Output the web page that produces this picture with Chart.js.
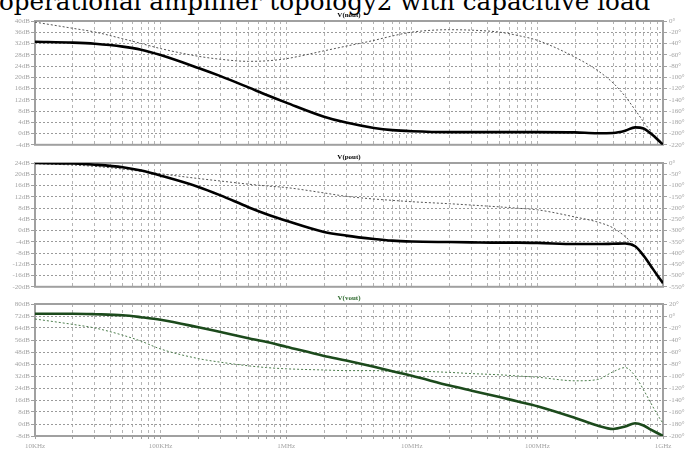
<!DOCTYPE html>
<html>
<head>
<meta charset="utf-8">
<script src="https://cdn.jsdelivr.net/npm/chart.js@4.4.0/dist/chart.umd.min.js"></script>
<style>
  body { margin:0; width:693px; height:450px; overflow:hidden; background:#fff; position:relative; }
  #titre { position:absolute; left:-1px; top:-10px; font-family:'DejaVu Serif'; font-size:24.6px; line-height:24.6px; white-space:nowrap; color:#000; }
  canvas { position:absolute; left:0; }
</style>
</head>
<body>
<div id="titre">operational amplifier topology2 with capacitive load</div>
<canvas id="nout" width="693" height="151" style="top:0px"></canvas>
<canvas id="pout" width="693" height="143" style="top:150px"></canvas>
<canvas id="vout" width="693" height="160" style="top:290px"></canvas>
<script>
//-----------------------------------------------------------------
//------------------------ DONNEES --------------------------------
//-----------------------------------------------------------------

const freqs = [1e4, 2e4, 3e4, 5e4, 7e4, 1e5, 2e5, 3e5, 5e5, 7e5,
               1e6, 2e6, 3e6, 5e6, 7e6, 1e7, 2e7, 3e7, 5e7, 7e7,
               1e8, 2e8, 3e8, 4e8, 5e8, 6e8, 7e8, 8e8, 9e8, 1e9];
const freqDecades = [1e4, 1e5, 1e6, 1e7, 1e8, 1e9];
const freqLabels = ['10KHz', '100KHz', '1MHz', '10MHz', '100MHz', '1GHz'];

// V(nout) : gain (dB) et phase (deg)
const noutMag = [32.6, 32.3, 31.9, 30.9, 29.8, 27.9, 23.3, 20.4, 16.4, 13.7,
                 11.0, 6.0, 3.9, 2.0, 1.2, 0.8, 0.5, 0.5, 0.5, 0.5,
                 0.5, 0.4, 0.1, 0.2, 1.0, 2.2, 1.8, 0, -2, -4];
const noutPhase = [-2, -13, -19.6, -31.6, -40, -49, -62.7, -68, -71.7, -70.8,
                   -67, -53, -44.7, -34.4, -26.6, -19.8, -15.5, -16.3, -19.8, -25.8,
                   -34.4, -64.5, -87.7, -110, -134, -158, -179, -196, -208, -218];

// V(pout)
const poutMag = [24, 23.8, 23.4, 22.5, 21.3, 19.5, 15.5, 12.5, 8.3, 5.8,
                 3.5, -0.5, -1.8, -3.0, -3.6, -3.9, -4.1, -4.2, -4.3, -4.3,
                 -4.4, -4.8, -4.8, -4.7, -4.6, -5.6, -8.9, -12.6, -15.9, -18.7];
const poutPhase = [-3, -9, -15, -27, -37, -48, -69, -80, -94, -102,
                   -109, -133, -148, -160, -166, -172, -181, -187, -195, -201,
                   -208, -240, -262, -288, -327, -370, -417, -460, -498, -532];

// V(vout)
const voutMag = [73.5, 73.5, 73.2, 72.5, 71.2, 69.5, 64.5, 61.3, 57.2, 54.6,
                 51.5, 45.4, 42.3, 38.1, 35.2, 32.2, 25.6, 22.2, 18, 15,
                 11.8, 4, -1, -3.3, -1.7, 0.5, -1, -3.7, -6, -8];
const voutPhase = [-5, -14, -20, -32, -42, -55, -71, -77, -83, -86,
                   -88, -90, -91, -91, -92, -92, -94, -96, -98, -100,
                   -102, -108, -106, -93, -86, -100, -123, -145, -164, -179];

// echelles [min, max, pas]
const noutDb = [-4, 40, 4],   noutDeg = [-220, 0, 20];
const poutDb = [-20, 24, 4],  poutDeg = [-550, 0, 50];
const voutDb = [-8, 80, 8],   voutDeg = [-200, 20, 20];

//---------------Fonctions utilitaires-----------------

function logTicks() {
    var t = [];
    for (var i = 0; i < freqDecades.length - 1; i++) {
        for (var m = 1; m < 10; m++) t.push(freqDecades[i] * m);
    }
    t.push(freqDecades[freqDecades.length - 1]);
    return t;
}

const tickFont = {family: 'Liberation Serif', size: 7};
const tickColor = '#a4a4a4';

// cadre gris autour de la zone de trace
const cadre = {
    id: 'cadre',
    beforeDatasetsDraw(chart) {
        const a = chart.chartArea, ctx = chart.ctx;
        ctx.save();
        ctx.strokeStyle = '#a0a0a0';
        ctx.lineWidth = 2;
        ctx.strokeRect(a.left, a.top, a.right - a.left, a.bottom - a.top);
        ctx.restore();
    }
};

//---------------Fonction graphe-------------------------

function defineGraphe(id, cfg) {
    const data = {
        labels: freqs,
        datasets: [{
            label: 'mag',
            data: cfg.mag,
            yAxisID: 'y',
            borderColor: cfg.magColor,
            borderWidth: 2.6,
            pointRadius: 0,
            cubicInterpolationMode: 'monotone'
        }, {
            label: 'phase',
            data: cfg.phase,
            yAxisID: 'y2',
            borderColor: cfg.phaseColor,
            borderWidth: 1,
            borderDash: [2, 2],
            pointRadius: 0,
            cubicInterpolationMode: 'monotone'
        }]
    };

    return new Chart(document.getElementById(id), {
        type: 'line',
        data: data,
        plugins: [cadre],
        options: {
            responsive: false,
            animation: false,
            layout: {padding: 0},
            plugins: {
                legend: {display: false},
                tooltip: {enabled: false},
                title: {
                    display: true,
                    text: cfg.title,
                    color: cfg.titleColor,
                    fullSize: false,
                    font: {family: 'Liberation Serif', size: 7, weight: 'bold', lineHeight: 1.2},
                    padding: cfg.titlePad
                }
            },
            scales: {
                x: {
                    type: 'logarithmic',
                    min: freqDecades[0],
                    max: freqDecades[freqDecades.length - 1],
                    afterBuildTicks: s => { s.ticks = logTicks().map(v => ({value: v})); },
                    afterFit: s => { s.height = cfg.xHeight; },
                    border: {display: false, dash: [3, 3]},
                    grid: {color: '#b4b4b4', lineWidth: 1,
                           drawTicks: cfg.showX, tickLength: 3, tickColor: '#a0a0a0', tickBorderDash: []},
                    ticks: {
                        display: cfg.showX,
                        autoSkip: false, maxRotation: 0, padding: 3,
                        font: tickFont, color: tickColor,
                        callback: v => {
                            var k = freqDecades.indexOf(v);
                            return k >= 0 ? freqLabels[k] : '';
                        }
                    }
                },
                y: {
                    position: 'left',
                    min: cfg.db[0], max: cfg.db[1],
                    afterFit: s => { s.width = 35; },
                    border: {display: false, dash: [2, 2]},
                    grid: {color: '#9a9a9a', tickLength: 4,
                           tickColor: '#a0a0a0', tickBorderDash: []},
                    ticks: {stepSize: cfg.db[2], autoSkip: false, padding: 1,
                            font: tickFont, color: tickColor,
                            callback: v => v + 'dB'}
                },
                y2: {
                    position: 'right',
                    min: cfg.deg[0], max: cfg.deg[1],
                    afterFit: s => { s.width = 30; },
                    border: {display: false},
                    grid: {drawOnChartArea: false, tickLength: 4, tickColor: '#a0a0a0'},
                    ticks: {stepSize: cfg.deg[2], autoSkip: false, padding: 2,
                            font: tickFont, color: tickColor,
                            callback: v => v + '°'}
                }
            }
        }
    });
}

//---------------Creation des trois panneaux-------------------------

defineGraphe('nout', {
    title: 'V(nout)', titleColor: '#000', titlePad: {top: 11.3, bottom: 1.3},
    mag: noutMag, phase: noutPhase, db: noutDb, deg: noutDeg,
    magColor: '#000', phaseColor: '#555', showX: false, xHeight: 2
});
defineGraphe('pout', {
    title: 'V(pout)', titleColor: '#000', titlePad: {top: 2.8, bottom: 1.8},
    mag: poutMag, phase: poutPhase, db: poutDb, deg: poutDeg,
    magColor: '#000', phaseColor: '#555', showX: false, xHeight: 2
});
defineGraphe('vout', {
    title: 'V(vout)', titleColor: '#2e6a2e', titlePad: {top: 3.8, bottom: 1.8},
    mag: voutMag, phase: voutPhase, db: voutDb, deg: voutDeg,
    magColor: '#1c4a1c', phaseColor: '#4d7d4d', showX: true, xHeight: 14
});
</script>
</body>
</html>
